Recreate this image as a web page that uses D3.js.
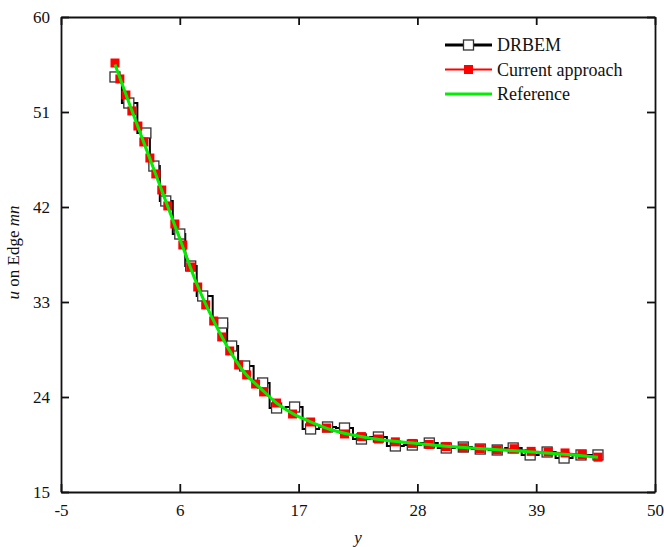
<!DOCTYPE html>
<html>
<head>
<meta charset="utf-8">
<script src="https://cdn.jsdelivr.net/npm/d3@7"></script>
<style>
  body { margin: 0; background: #fff; }
  text { font-family: "Liberation Serif", "Times New Roman", serif; fill: #111; }
</style>
</head>
<body>
<div id="chart"></div>
<script>
// values
var xTicks = [-5, 6, 17, 28, 39, 50];
var yTicks = [15, 24, 33, 42, 51, 60];

var drbemX = [0.0, 1.28, 2.86, 3.60, 4.70, 6.0, 7.01, 8.12, 9.97, 10.80, 12.0, 13.67, 14.96, 16.63,
  18.11, 19.68, 21.25, 22.82, 24.39, 25.96, 27.53, 29.10, 30.67, 32.25, 33.82, 35.39, 36.87,
  38.44, 40.01, 41.58, 43.15, 44.72];
var drbemY = [54.32, 51.85, 49.01, 45.88, 42.57, 39.44, 36.41, 33.57, 31.01, 28.83, 26.94, 25.33,
  22.96, 23.05, 20.97, 21.16, 21.06, 20.02, 20.21, 19.36, 19.45, 19.64, 19.17, 19.26, 19.07,
  18.98, 19.17, 18.51, 18.79, 18.22, 18.51, 18.51];

var currentX = [0.0, 0.45, 1.01, 1.56, 2.12, 2.67, 3.23, 3.78, 4.33, 4.89, 5.54, 6.28, 7.01, 7.66,
  8.40, 9.14, 9.88, 10.62, 11.45, 12.19, 13.02, 13.76, 14.96, 16.44, 18.11, 19.58, 21.25, 22.82,
  24.39, 25.96, 27.53, 29.10, 30.67, 32.25, 33.82, 35.39, 36.96, 38.53, 40.10, 41.67, 43.24, 44.72];
var currentY = [55.64, 54.13, 52.61, 51.10, 49.67, 48.16, 46.64, 45.13, 43.61, 42.10, 40.39, 38.40,
  36.32, 34.42, 32.72, 31.20, 29.69, 28.36, 27.03, 26.09, 25.23, 24.48, 23.43, 22.39, 21.63, 21.06,
  20.50, 20.25, 20.02, 19.75, 19.60, 19.50, 19.30, 19.20, 19.10, 19.00, 19.10, 18.85, 18.80,
  18.70, 18.55, 18.30];

var refX = [0, 1.5, 3, 4.5, 6, 7.5, 9, 10.5, 12, 13.5, 15, 16.5, 18, 20, 22, 25, 28, 31, 34, 37, 40, 42.5, 44.72];
var refY = [55.5, 51.3, 47.2, 43.1, 39.0, 34.9, 31.5, 28.6, 26.3, 24.8, 23.4, 22.4, 21.7, 20.9,
  20.4, 19.9, 19.6, 19.3, 19.1, 18.9, 18.7, 18.5, 18.3];

var legendNames = ["DRBEM", "Current approach", "Reference"];

var svgWidth = 664;
var svgHeight = 547;
var margin = { top: 17, right: 9, bottom: 55, left: 61 };
var width = svgWidth - margin.left - margin.right;
var height = svgHeight - margin.top - margin.bottom;

var svg = d3.select("#chart")
  .append("svg")
  .attr("width", svgWidth)
  .attr("height", svgHeight);

var g = svg.append("g")
  .attr("transform", `translate(${margin.left}, ${margin.top})`);

var x = d3.scaleLinear().domain([-5, 50]).range([0, width]);
var y = d3.scaleLinear().domain([15, 60]).range([height, 0]);

var drbem = drbemX.map((v, i) => [v, drbemY[i]]);
var current = currentX.map((v, i) => [v, currentY[i]]);
var ref = refX.map((v, i) => [v, refY[i]]);

// clip so nothing leaks past the frame
g.append("clipPath").attr("id", "clip")
  .append("rect").attr("width", width).attr("height", height);
var plot = g.append("g").attr("clip-path", "url(#clip)");

// DRBEM: black stepped line with open squares
plot.append("path")
  .datum(drbem)
  .attr("fill", "none")
  .attr("stroke", "#000")
  .attr("stroke-width", 2)
  .attr("d", d3.line().x(d => x(d[0])).y(d => y(d[1])).curve(d3.curveStep));

plot.selectAll(".drbem")
  .data(drbem)
  .enter()
  .append("rect")
  .attr("class", "drbem")
  .attr("x", d => x(d[0]) - 5)
  .attr("y", d => y(d[1]) - 5)
  .attr("width", 10)
  .attr("height", 10)
  .attr("fill", "#fff")
  .attr("stroke", "#333")
  .attr("stroke-width", 1.3);

// current approach: red line and filled squares
plot.append("path")
  .datum(current)
  .attr("fill", "none")
  .attr("stroke", "#ff0000")
  .attr("stroke-width", 1.5)
  .attr("d", d3.line().x(d => x(d[0])).y(d => y(d[1])));

plot.selectAll(".current")
  .data(current)
  .enter()
  .append("rect")
  .attr("class", "current")
  .attr("x", d => x(d[0]) - 4.5)
  .attr("y", d => y(d[1]) - 4.5)
  .attr("width", 9)
  .attr("height", 9)
  .attr("fill", "#ff0000");

// reference: green smooth line
plot.append("path")
  .datum(ref)
  .attr("fill", "none")
  .attr("stroke", "#00ee00")
  .attr("stroke-width", 3)
  .attr("d", d3.line().x(d => x(d[0])).y(d => y(d[1])).curve(d3.curveMonotoneX));

// axes, ticks pointing inward on all four sides
var tickLen = 8;
g.append("g")
  .attr("transform", `translate(0, ${height})`)
  .call(d3.axisBottom(x).tickValues(xTicks).tickSizeInner(-tickLen).tickSizeOuter(0).tickPadding(12)
    .tickFormat(d => String(d)))
  .call(a => a.selectAll("text").attr("font-size", 17));
g.append("g")
  .call(d3.axisLeft(y).tickValues(yTicks).tickSizeInner(-tickLen).tickSizeOuter(0).tickPadding(11)
    .tickFormat(d => String(d)))
  .call(a => a.selectAll("text").attr("font-size", 17));
g.append("g")
  .call(d3.axisTop(x).tickValues(xTicks).tickSizeInner(-tickLen).tickSizeOuter(0).tickFormat(""));
g.append("g")
  .attr("transform", `translate(${width}, 0)`)
  .call(d3.axisRight(y).tickValues(yTicks).tickSizeInner(-tickLen).tickSizeOuter(0).tickFormat(""));

g.selectAll(".domain").attr("stroke", "#111").attr("stroke-width", 1.8);
g.selectAll(".tick line").attr("stroke", "#111").attr("stroke-width", 1.8);
g.selectAll(".tick text").attr("fill", "#111").style("font-family", "Liberation Serif, serif");

// axis titles
g.append("text")
  .attr("x", width / 2)
  .attr("y", height + 51)
  .attr("text-anchor", "middle")
  .attr("font-size", 17)
  .attr("font-style", "italic")
  .text("y");

var yTitle = g.append("text")
  .attr("transform", `translate(${-42}, ${height / 2 - 2}) rotate(-90)`)
  .attr("text-anchor", "middle")
  .attr("font-size", 17);
yTitle.append("tspan").attr("font-style", "italic").text("u");
yTitle.append("tspan").text(" on Edge ");
yTitle.append("tspan").attr("font-style", "italic").text("mn");

// legend
var legend = svg.append("g").attr("transform", "translate(445, 45)");
var rowGap = 24.5;
var colors = ["#000", "#ff0000", "#00ee00"];
legendNames.forEach(function(name, i) {
  var row = legend.append("g").attr("transform", `translate(0, ${i * rowGap})`);
  row.append("line")
    .attr("x1", 0).attr("x2", 47)
    .attr("stroke", colors[i])
    .attr("stroke-width", i == 1 ? 2 : 3);
  if (i == 0) {
    row.append("rect").attr("x", 18.5).attr("y", -5).attr("width", 10).attr("height", 10)
      .attr("fill", "#fff").attr("stroke", "#333").attr("stroke-width", 1.3);
  } else if (i == 1) {
    row.append("rect").attr("x", 19).attr("y", -4.5).attr("width", 9).attr("height", 9)
      .attr("fill", "#ff0000");
  }
  row.append("text")
    .attr("x", 52)
    .attr("y", 6)
    .attr("font-size", 18)
    .text(name);
});
</script>
</body>
</html>
